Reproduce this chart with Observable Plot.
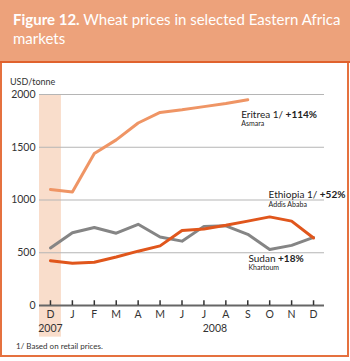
<!DOCTYPE html>
<html><head><meta charset="utf-8">
<script src="https://cdn.jsdelivr.net/npm/d3@7"></script>
<script src="https://cdn.jsdelivr.net/npm/@observablehq/plot@0.6"></script>
<style>
body{margin:0;background:#fff;font-family:Lato,sans-serif;}
#wrap{position:relative;width:350px;height:361px;overflow:hidden;}
#title{position:absolute;left:0;top:0;width:350px;height:61px;background:#EDA27B;border-bottom:2px solid #E0622D;box-sizing:content-box;}
#title div{position:absolute;left:13px;top:10px;color:#fff;font-size:15px;line-height:19px;white-space:nowrap;}
#frame{position:absolute;left:0;top:63px;width:345px;height:292px;border:2px solid #E5713F;border-top:none;}
#unit{position:absolute;left:10px;top:76px;font-size:9px;color:#333;}
#note{position:absolute;left:16px;top:341px;font-size:8px;color:#333;}
#chart{position:absolute;left:2px;top:63px;}
</style></head>
<body><div id="wrap">
<div id="title"><div><b>Figure 12.</b> Wheat prices in selected Eastern Africa<br>markets</div></div>
<div id="frame"></div>
<div id="chart"></div>
<div id="unit">USD/tonne</div>
<div id="note">1/ Based on retail prices.</div>
</div>
<script>
const monthLabels = ["D","J","F","M","A","M","J","J","A","S","O","N","D"];
const eritrea  = [1100,1075,1440,1570,1730,1830,1855,1885,1915,1950];
const ethiopia = [545,690,740,685,770,650,610,750,755,675,530,570,645];
const sudan    = [425,400,410,460,515,565,710,725,760,800,840,800,640];
const yTicks = [0,500,1000,1500,2000];
const years = [{x:0,label:"2007"},{x:7.5,label:"2008"}];

const toRows = (arr) => arr.map((v,i)=>({i, v}));
const labels = [
  {x:8.7, y:1805, t:"Eritrea 1/ |+114%", size:10},
  {x:8.7, y:1722, t:"Asmara", size:7},
  {x:9.95, y:1045, t:"Ethiopia 1/ |+52%", size:10},
  {x:9.95, y:952, t:"Addis Ababa", size:7},
  {x:9.03, y:440, t:"Sudan |+18%", size:10},
  {x:9.03, y:357, t:"Khartoum", size:7}
];

const plot = Plot.plot({
  width:345, height:293,
  marginLeft:37, marginRight:23, marginTop:31, marginBottom:51,
  style:{fontFamily:"Lato, sans-serif", color:"#333", background:"transparent"},
  x:{domain:[-0.5,12.5], axis:null},
  y:{domain:[0,2000], axis:null},
  marks:[
    Plot.rect([0],{x1:-0.5,x2:0.5,y1:-300,y2:2000,fill:"#F9DDCB"}),
    Plot.ruleY(yTicks.filter(d=>d>0),{stroke:"#B5B5B5",strokeWidth:1}),
    Plot.axisY(yTicks,{tickSize:0,tickPadding:4,fontSize:10.5,fill:"#333",tickFormat:d=>String(d)}),
    Plot.line(toRows(ethiopia),{x:"i",y:"v",stroke:"#858585",strokeWidth:3}),
    Plot.line(toRows(sudan),{x:"i",y:"v",stroke:"#E0561C",strokeWidth:3}),
    Plot.line(toRows(eritrea),{x:"i",y:"v",stroke:"#EF9565",strokeWidth:3}),
    Plot.ruleY([0],{stroke:"#666",strokeWidth:2}),
    Plot.ruleX(monthLabels.map((d,i)=>i),{x:d=>d,y1:0,y2:45,stroke:"#333",strokeWidth:1.5}),
    Plot.axisX(monthLabels.map((d,i)=>i),{tickSize:0,tickPadding:5,fontSize:10.5,fill:"#333",tickFormat:i=>monthLabels[i]}),
    Plot.text(years,{x:"x",text:"label",frameAnchor:"bottom",dy:26,fontSize:10.5,fill:"#333"}),
    Plot.text(labels,{x:"x",y:"y",text:"t",fontSize:"size",textAnchor:"start",fill:"#222"})
  ]
});
document.getElementById("chart").appendChild(plot);
plot.querySelectorAll("text").forEach(t=>{
  if (t.textContent.includes("|")) {
    const [a,b] = t.textContent.split("|");
    t.textContent = "";
    const s1 = document.createElementNS("http://www.w3.org/2000/svg","tspan"); s1.textContent=a;
    const s2 = document.createElementNS("http://www.w3.org/2000/svg","tspan"); s2.textContent=b; s2.setAttribute("font-weight","bold");
    t.appendChild(s1); t.appendChild(s2);
  }
});
</script>
</body></html>
